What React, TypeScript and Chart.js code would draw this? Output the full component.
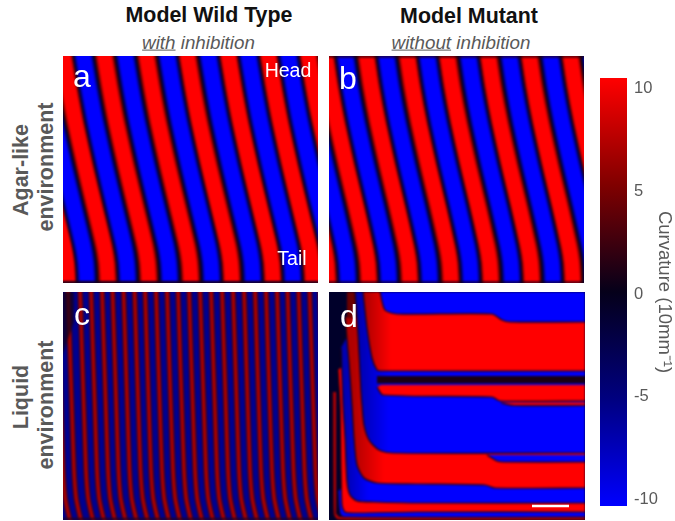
import React, { useEffect, useRef } from "react";
import { Chart, registerables } from "chart.js";

Chart.register(...registerables);

const FONT = "'Liberation Sans', Arial, sans-serif";
const GRAY = "#595959";
const PAD = 70;

type Pt = { x: number; y: number };

/* ---------- stripe panels: wave crest position at head vs time ---------- */
const bodyPosA = [-3, 30, 67, 110, 150, 190, 205, 218, 232];
const waveLagA = [0, 5.5, 12.5, 22, 31.5, 41, 43.5, 44.5, 45];
const redHeadsA = [-40, 0, 41, 83, 124, 165, 205, 245, 286];
const blueHeadsA = [-61, -21, 20, 62, 104, 145, 185, 225, 266];

const bodyPosB = [-3, 30, 67, 110, 150, 190, 205, 218, 232];
const waveLagB = [0, 5, 12, 21.5, 31, 40, 42.5, 43.5, 44];
const redHeadsB = [-45, -4, 37, 78, 118, 159, 200, 241, 282];
const blueHeadsB = [-66, -25, 16, 57, 98, 139, 180, 221, 262];

const bodyPosC = [-3, 60, 120, 178, 205, 218, 232];
const waveLagC = [0, 2, 4, 6, 8, 10.5, 14];
const redHeadsC = [-28, -17, -6, 5, 17, 28, 39, 49.5, 60.5, 71.5, 82, 93, 104, 115, 126, 137, 148, 159, 170, 181, 192, 203, 214, 224.5, 235.5, 246.5, 257];

/* ---------- panel d: domain boundaries (time, body position) ---------- */
const thinRedUpper: Pt[] = [{ x: 4, y: 100 }, { x: 7, y: 100 }, { x: 7.3, y: 222 }, { x: 10, y: 225 }, { x: 256, y: 225 }];
const thinRedLower: Pt[] = [{ x: 4, y: 100 }, { x: 5, y: 222 }, { x: 8, y: 227 }, { x: 20, y: 228 }, { x: 256, y: 228 }];
const blue6Upper: Pt[] = [{ x: 9, y: 200 }, { x: 13, y: 195 }, { x: 256, y: 195 }];
const blue6Lower: Pt[] = [{ x: 9, y: 200 }, { x: 11, y: 222 }, { x: 15, y: 225 }, { x: 256, y: 225 }];
const red5Upper: Pt[] = [{ x: 9, y: 78 }, { x: 14, y: 74 }, { x: 256, y: 74 }];
const red5Lower: Pt[] = [{ x: 9, y: 78 }, { x: 11, y: 113 }, { x: 12, y: 180 }, { x: 13, y: 213 }, { x: 16, y: 220 }, { x: 25, y: 221 }, { x: 88, y: 220 }, { x: 256, y: 220 }];
const blue4Upper: Pt[] = [{ x: 12, y: 56 }, { x: 18, y: 45 }, { x: 256, y: 45 }];
const blue4Lower: Pt[] = [{ x: 12, y: 56 }, { x: 14, y: 113 }, { x: 16, y: 146 }, { x: 18, y: 190 }, { x: 21, y: 203 }, { x: 28, y: 209 }, { x: 45, y: 210 }, { x: 88, y: 211 }, { x: 256, y: 211 }];
const red3Upper: Pt[] = [{ x: 16, y: 25 }, { x: 26, y: 25 }, { x: 256, y: 25 }];
const red3Lower: Pt[] = [{ x: 16, y: 25 }, { x: 20, y: 70 }, { x: 23, y: 113 }, { x: 25, y: 146 }, { x: 28, y: 173 }, { x: 35, y: 186 }, { x: 48, y: 191 }, { x: 88, y: 192 }, { x: 156, y: 193 }, { x: 166, y: 196 }, { x: 256, y: 196 }];
const red3Fade: Pt[] = [{ x: 18, y: 0 }, { x: 27, y: 0 }];
const red3FadeLower: Pt[] = [{ x: 18, y: 26 }, { x: 27, y: 26 }];
const blue2Upper: Pt[] = [{ x: 26, y: 0 }, { x: 256, y: 0 }];
const blue2Lower: Pt[] = [{ x: 26, y: 0 }, { x: 29, y: 43 }, { x: 32, y: 100 }, { x: 33, y: 113 }, { x: 35, y: 133 }, { x: 40, y: 148 }, { x: 50, y: 158 }, { x: 65, y: 161 }, { x: 256, y: 161 }];
const red1Upper: Pt[] = [{ x: 34, y: 0 }, { x: 256, y: 0 }];
const red1Lower: Pt[] = [{ x: 34, y: 0 }, { x: 38, y: 36 }, { x: 43, y: 66 }, { x: 48, y: 78 }, { x: 52, y: 79 }, { x: 256, y: 79 }];
const blue1Upper: Pt[] = [{ x: 51, y: 0 }, { x: 256, y: 0 }];
const blue1Lower: Pt[] = [{ x: 51, y: 0 }, { x: 56, y: 18 }, { x: 68, y: 22 }, { x: 163, y: 22 }, { x: 173, y: 28 }, { x: 181, y: 30 }, { x: 256, y: 30 }];
const darkUpper: Pt[] = [{ x: 48, y: 84 }, { x: 256, y: 84 }];
const darkLower: Pt[] = [{ x: 48, y: 91 }, { x: 256, y: 91 }];
const red2Upper: Pt[] = [{ x: 48, y: 95 }, { x: 52, y: 93 }, { x: 256, y: 93 }];
const red2Lower: Pt[] = [{ x: 48, y: 95 }, { x: 54, y: 103 }, { x: 163, y: 105 }, { x: 171, y: 109 }, { x: 256, y: 109 }];
const red2bUpper: Pt[] = [{ x: 172, y: 110.5 }, { x: 256, y: 110.5 }];
const red2bLower: Pt[] = [{ x: 172, y: 111 }, { x: 185, y: 113.5 }, { x: 256, y: 113.5 }];
const blueStripUpper: Pt[] = [{ x: 158, y: 163 }, { x: 256, y: 163 }];
const blueStripLower: Pt[] = [{ x: 158, y: 163 }, { x: 168, y: 169 }, { x: 175, y: 170 }, { x: 256, y: 170 }];
const scaleBar: Pt[] = [{ x: 203, y: 214 }, { x: 240, y: 214 }];

/* ---------- colour bar ---------- */
const colorbarTicks = [-10, -5, 0, 5, 10];
const colorbarRange = [-10.3, 10.5];
const colorbarStops = ["#0000ff", "#000080", "#05001a", "#800000", "#ff0000"];

function stripes(heads: number[], pos: number[], lag: number[], widths: number[], colors: string[]) {
  const out: any[] = [];
  heads.forEach((h) => {
    const data = pos.map((y, i) => ({ x: h + lag[i], y }));
    widths.forEach((w, k) => {
      out.push({ data, borderColor: colors[k], borderWidth: w, tension: 0.2, pointRadius: 0, fill: false });
    });
  });
  return out;
}

function hLine(y: number, w: number, color: string, xmax: number) {
  return { data: [{ x: -10, y }, { x: xmax + 10, y }], borderColor: color, borderWidth: w, pointRadius: 0, fill: false };
}

function band(list: any[], upper: Pt[], lower: Pt[], color: any, edge = "#1a0010", edgeW = 1.2) {
  const idx = list.length;
  list.push({ data: upper, borderWidth: 0, pointRadius: 0, fill: false, tension: 0 });
  list.push({ data: lower, borderColor: edge, borderWidth: edgeW, pointRadius: 0, tension: 0.25, fill: { target: idx }, backgroundColor: color });
}

/* a colour that dims toward the young (left) end of a domain */
const ramp = (dim: string, full: string, from: number, to: number) => (c: any) => {
  const g = c.chart.ctx.createLinearGradient(from + PAD, 0, to + PAD, 0);
  g.addColorStop(0, dim);
  g.addColorStop(1, full);
  return g;
};

const W_AB = [21.5, 18.5, 14.5];
const RED_AB = ["#200000", "#8a0000", "#ff0000"];
const BLUE_AB = ["#000020", "#00008a", "#0000ff"];

function panelA() {
  return [
    ...stripes(redHeadsA, bodyPosA, waveLagA, W_AB, RED_AB),
    ...stripes(blueHeadsA, bodyPosA, waveLagA, W_AB, BLUE_AB),
    hLine(226.5, 3, "#15001a", 256),
  ];
}
function panelB() {
  return [
    ...stripes(redHeadsB, bodyPosB, waveLagB, W_AB, RED_AB),
    ...stripes(blueHeadsB, bodyPosB, waveLagB, W_AB, BLUE_AB),
    hLine(0.5, 2, "#200010", 256),
    hLine(226.5, 2, "#15001a", 256),
  ];
}
function panelC() {
  const list = stripes(redHeadsC, bodyPosC, waveLagC, [5.5, 3.6], ["#280018", "#a80000"]);
  band(list, [{ x: -3, y: 0 }, { x: 11, y: 0 }], [{ x: -3, y: 70 }, { x: 11, y: 30 }], "rgba(20,0,30,0.75)", "transparent", 0);
  list.push(hLine(227, 2, "#200028", 256));
  return list;
}
function panelD() {
  const list: any[] = [];
  band(list, thinRedUpper, thinRedLower, "#c00000", "#400010", 1);
  band(list, blue6Upper, blue6Lower, "#0000ff");
  band(list, red5Upper, red5Lower, "#ff0000");
  band(list, blue4Upper, blue4Lower, ramp("#0000b0", "#0000ff", 16, 40));
  band(list, red3Upper, red3Lower, ramp("#b00000", "#ff0000", 24, 55));
  band(list, red3Fade, red3FadeLower, "#6a0000", "transparent", 0);
  band(list, blue2Upper, blue2Lower, ramp("#0000b0", "#0000ff", 30, 60));
  band(list, red1Upper, red1Lower, ramp("#b00000", "#ff0000", 36, 62));
  band(list, blue1Upper, blue1Lower, "#0000ff");
  band(list, darkUpper, darkLower, "#1a0012", "#1a0012", 1);
  band(list, red2Upper, red2Lower, "#ff0000");
  band(list, red2bUpper, red2bLower, "#ff0000");
  band(list, blueStripUpper, blueStripLower, "#0000ff");
  return list;
}

function Panel({ left, top, width, height, bg, build, overlay }: any) {
  const ref = useRef<HTMLCanvasElement>(null);
  const ref2 = useRef<HTMLCanvasElement>(null);
  useEffect(() => {
    const mk = (el: HTMLCanvasElement, sets: any[]) =>
      new Chart(el, {
        type: "line",
        data: { datasets: sets.map((d: any, i: number) => ({ ...d, order: -i })) },
        options: {
          animation: false,
          responsive: false,
          maintainAspectRatio: false,
          events: [],
          layout: { padding: 0 },
          plugins: { legend: { display: false }, tooltip: { enabled: false } },
          scales: {
            x: { type: "linear", display: false, min: -PAD, max: width + PAD },
            y: { type: "linear", display: false, min: -PAD, max: height + PAD, reverse: true },
          },
        },
      });
    const chart = mk(ref.current!, build());
    const top2 = overlay ? mk(ref2.current!, overlay()) : null;
    return () => {
      chart.destroy();
      if (top2) top2.destroy();
    };
  }, []);
  const st: any = { position: "absolute", left: -PAD, top: -PAD, display: "block" };
  return (
    <div style={{ position: "absolute", left, top, width, height, overflow: "hidden", background: bg }}>
      <canvas ref={ref} width={width + 2 * PAD} height={height + 2 * PAD} style={{ ...st, filter: "blur(1px)" }} />
      {overlay ? <canvas ref={ref2} width={width + 2 * PAD} height={height + 2 * PAD} style={st} /> : null}
    </div>
  );
}

function ColorBar() {
  const ref = useRef<HTMLCanvasElement>(null);
  useEffect(() => {
    const chart = new Chart(ref.current!, {
      type: "bar",
      data: {
        labels: ["Curvature"],
        datasets: [
          {
            data: [colorbarRange],
            barPercentage: 1,
            categoryPercentage: 1,
            backgroundColor: (c: any) => {
              const a = c.chart.chartArea;
              if (!a) return "#000";
              const g = c.chart.ctx.createLinearGradient(0, a.bottom, 0, a.top);
              colorbarStops.forEach((s, i) => g.addColorStop(i / (colorbarStops.length - 1), s));
              return g;
            },
          } as any,
        ],
      },
      options: {
        animation: false,
        responsive: false,
        events: [],
        layout: { padding: 0 },
        plugins: { legend: { display: false }, tooltip: { enabled: false } },
        scales: {
          x: { display: false },
          y: {
            position: "right",
            min: colorbarRange[0],
            max: colorbarRange[1],
            afterBuildTicks: (s: any) => {
              s.ticks = colorbarTicks.map((value) => ({ value }));
            },
            afterFit: (s: any) => {
              s.width = 48;
              s.paddingTop = 0;
              s.paddingBottom = 0;
            },
            grid: { display: false, drawTicks: false },
            border: { display: false },
            ticks: { color: GRAY, font: { family: FONT, size: 16.5 }, padding: 7, autoSkip: false, align: "center" },
            title: {
              display: true,
              text: "Curvature (10mm\u207B\u00B9)",
              color: GRAY,
              font: { family: FONT, size: 18.5 },
              padding: { top: 0, bottom: 6 },
            },
          },
        },
      },
    });
    return () => chart.destroy();
  }, []);
  return <canvas ref={ref} width={75} height={428} style={{ position: "absolute", left: 600, top: 78, display: "block" }} />;
}

function Label({ x, y, size, color, bold, italic, rotate, children }: any) {
  return (
    <div
      style={{
        position: "absolute",
        left: x,
        top: y,
        transform: `translate(-50%,-50%)${rotate ? " rotate(-90deg)" : ""}`,
        whiteSpace: "nowrap",
        fontFamily: FONT,
        fontSize: size,
        lineHeight: 1,
        color,
        fontWeight: bold ? 700 : 400,
        fontStyle: italic ? "italic" : "normal",
      }}
    >
      {children}
    </div>
  );
}

const scaleBarOverlay = () => [{ data: scaleBar, borderColor: "#ffffff", borderWidth: 2.5, pointRadius: 0, fill: false }];

export default function App() {
  return (
    <div style={{ position: "absolute", left: 0, top: 0, width: 675, height: 521, overflow: "hidden", background: "#fff" }}>
      <Label x={209} y={16} size={21.4} color="#111" bold>Model Wild Type</Label>
      <Label x={469} y={17} size={21.4} color="#111" bold>Model Mutant</Label>
      <Label x={198.5} y={43} size={18.8} color={GRAY} italic><u>with</u> inhibition</Label>
      <Label x={461} y={43} size={18.8} color={GRAY} italic><u>without</u> inhibition</Label>
      <Label x={22} y={170} size={21.5} color={GRAY} bold rotate>Agar-like</Label>
      <Label x={47} y={167} size={21.5} color={GRAY} bold rotate>environment</Label>
      <Label x={22} y={397} size={21.5} color={GRAY} bold rotate>Liquid</Label>
      <Label x={47} y={405} size={21.5} color={GRAY} bold rotate>environment</Label>

      <Panel left={63} top={56} width={255} height={227} bg="#000" build={panelA} />
      <Panel left={329} top={56} width={255} height={227} bg="#000" build={panelB} />
      <Panel left={63} top={292} width={255} height={228} bg="#000090" build={panelC} />
      <Panel left={329} top={292} width={256} height={228} bg="#00002a" build={panelD} overlay={scaleBarOverlay} />
      <ColorBar />

      <Label x={82} y={76} size={32} color="#fff">a</Label>
      <Label x={348} y={78} size={32} color="#fff">b</Label>
      <Label x={82} y={314} size={32} color="#fff">c</Label>
      <Label x={349} y={316} size={32} color="#fff">d</Label>
      <Label x={288} y={71} size={19.5} color="#fff">Head</Label>
      <Label x={292} y={259} size={19.5} color="#fff">Tail</Label>
    </div>
  );
}
